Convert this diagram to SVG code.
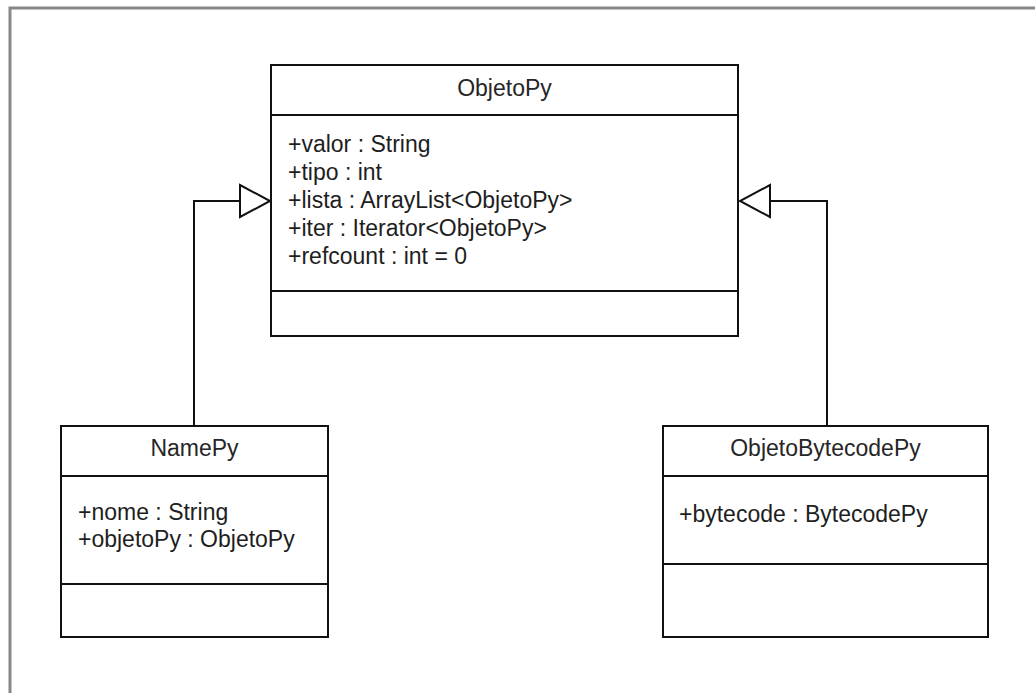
<svg xmlns="http://www.w3.org/2000/svg" width="1035" height="693" viewBox="0 0 1035 693">
  <style>
    .box { fill: #ffffff; stroke: #111111; stroke-width: 2; }
    .div { stroke: #111111; stroke-width: 2; }
    .title { font-family: "Liberation Sans", Arial, sans-serif; font-size: 23px; fill: #262626; text-anchor: middle; }
    .attr { font-family: "Liberation Sans", Arial, sans-serif; font-size: 23px; fill: #1e1e1e; }
    .edge { fill: none; stroke: #111111; stroke-width: 2; }
    .head { fill: #ffffff; stroke: #111111; stroke-width: 2; stroke-linejoin: miter; }
  </style>
  <rect width="1035" height="693" fill="#ffffff"/>
  <!-- outer frame -->
  <path d="M10,693 V8 H1035" fill="none" stroke="#888888" stroke-width="3"/>

  <!-- generalization connectors -->
  <g id="connectors">
    <path class="edge" d="M194,426 V201 H240"/>
    <polygon class="head" points="240,185 240,217 270,201"/>
    <path class="edge" d="M827,426 V201 H770"/>
    <polygon class="head" points="770,185 770,217 740,201"/>
  </g>

  <g id="ObjetoPy">
    <rect class="box" x="271" y="65" width="467" height="271"/>
    <line class="div" x1="271" y1="115" x2="738" y2="115"/>
    <line class="div" x1="271" y1="291" x2="738" y2="291"/>
    <text class="title" x="504.5" y="96">ObjetoPy</text>
    <text class="attr" x="288" y="152">+valor : String</text>
    <text class="attr" x="288" y="180">+tipo : int</text>
    <text class="attr" x="288" y="208">+lista : ArrayList&lt;ObjetoPy&gt;</text>
    <text class="attr" x="288" y="236">+iter : Iterator&lt;ObjetoPy&gt;</text>
    <text class="attr" x="288" y="264">+refcount : int = 0</text>
  </g>

  <g id="NamePy">
    <rect class="box" x="61" y="426" width="267" height="211"/>
    <line class="div" x1="61" y1="476" x2="328" y2="476"/>
    <line class="div" x1="61" y1="584" x2="328" y2="584"/>
    <text class="title" x="194.5" y="456">NamePy</text>
    <text class="attr" x="78" y="520">+nome : String</text>
    <text class="attr" x="78" y="547">+objetoPy : ObjetoPy</text>
  </g>

  <g id="ObjetoBytecodePy">
    <rect class="box" x="663" y="426" width="325" height="211"/>
    <line class="div" x1="663" y1="476" x2="988" y2="476"/>
    <line class="div" x1="663" y1="564" x2="988" y2="564"/>
    <text class="title" x="825.5" y="456">ObjetoBytecodePy</text>
    <text class="attr" x="679" y="522">+bytecode : BytecodePy</text>
  </g>
</svg>
